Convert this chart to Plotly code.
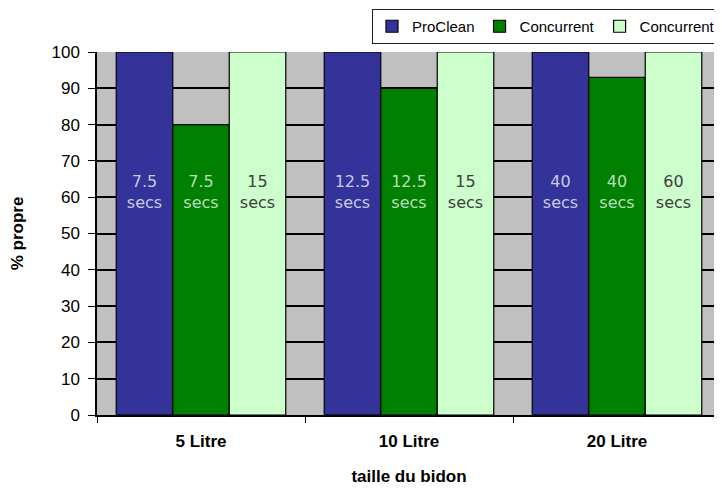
import plotly.graph_objects as go

categories = ["5 Litre", "10 Litre", "20 Litre"]
series_names = ["ProClean", "Concurrent", "Concurrent"]
proclean = [100, 100, 100]
concurrent_a = [80, 90, 93]
concurrent_b = [100, 100, 100]
label_y = 61
labels_proclean = ["7.5<br>secs", "12.5<br>secs", "40<br>secs"]
labels_conc_a = ["7.5<br>secs", "12.5<br>secs", "40<br>secs"]
labels_conc_b = ["15<br>secs", "15<br>secs", "60<br>secs"]
y_ticks = [0, 10, 20, 30, 40, 50, 60, 70, 80, 90, 100]

colors = ["#333399", "#008000", "#CCFFCC"]
text_colors = ["#C8C8E6", "#B8DCB8", "#404040"]
values = [proclean, concurrent_a, concurrent_b]
labels = [labels_proclean, labels_conc_a, labels_conc_b]

fig = go.Figure()
for i in range(3):
    fig.add_trace(go.Bar(
        x=categories, y=values[i], name=series_names[i],
        marker=dict(color=colors[i], line=dict(color="#000000", width=1.2)),
        offsetgroup=str(i), legendgroup=str(i),
    ))
for i in range(3):
    fig.add_trace(go.Scatter(
        x=categories, y=[label_y] * 3, mode="text", text=labels[i],
        textfont=dict(family="DejaVu Sans", size=16, color=text_colors[i]),
        offsetgroup=str(i), showlegend=False, hoverinfo="skip",
    ))

# page has an 8px body margin, so the figure is drawn 8px in from the window corner
fig.update_layout(
    width=714, height=480,
    margin=dict(l=89, r=1, t=44, b=73, autoexpand=False),
    paper_bgcolor="#FFFFFF", plot_bgcolor="#C0C0C0",
    barmode="group", bargap=0.185, bargroupgap=0,
    scattermode="group", scattergap=0.185,
    font=dict(family="Liberation Sans", size=16, color="#000000"),
    legend=dict(orientation="h", x=1.0, xanchor="right", y=1.022, yanchor="bottom",
                bordercolor="#222222", borderwidth=1, bgcolor="#FFFFFF",
                font=dict(size=15), itemwidth=30, tracegroupgap=0),
    showlegend=True,
)
fig.update_xaxes(
    type="category", tickson="boundaries", ticks="outside", ticklen=6, tickcolor="#000000",
    showline=True, linecolor="#000000", linewidth=1.5,
    tickfont=dict(size=17, family="Liberation Sans", weight="bold"),
    ticklabelstandoff=10,
    title=dict(text="<b>taille du bidon</b>", font=dict(size=17), standoff=20),
    showgrid=False,
)
fig.update_yaxes(
    range=[0, 100], tickvals=y_ticks, ticks="outside", ticklen=7, tickcolor="#000000",
    showline=True, linecolor="#000000", linewidth=1.5,
    showgrid=True, gridcolor="#000000", gridwidth=1.5,
    tickfont=dict(size=17), zeroline=False, ticklabelstandoff=5,
    title=dict(text="<b>% propre</b>", font=dict(size=17), standoff=24),
)

fig.write_html("out.html")
